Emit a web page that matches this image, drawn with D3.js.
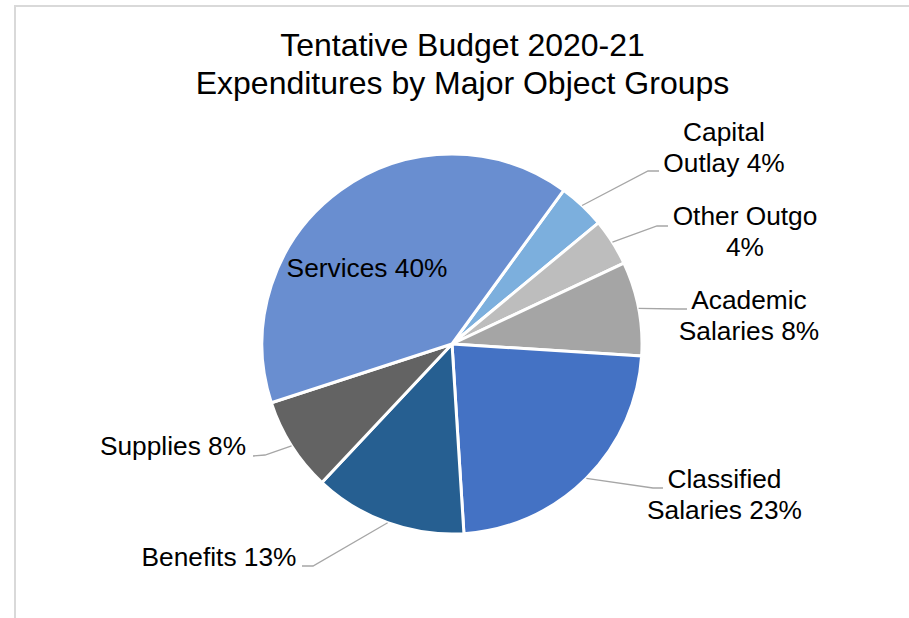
<!DOCTYPE html>
<html>
<head>
<meta charset="utf-8">
<script src="https://cdn.jsdelivr.net/npm/d3@7"></script>
<style>
  html, body { margin: 0; padding: 0; background: #ffffff; }
  svg { display: block; }
  text { font-family: "Liberation Sans", Arial, sans-serif; fill: #000000; }
</style>
</head>
<body>
<svg id="chart" width="909" height="618"></svg>
<script>
// Expenditure groups, clockwise from the Capital Outlay slice
const categories = ["Capital Outlay", "Other Outgo", "Academic Salaries", "Classified Salaries", "Benefits", "Supplies", "Services"];
const shares = [4, 4, 8, 23, 13, 8, 40];
// How each data label wraps; the percentage is appended to the last line
const labelWrap = [["Capital", "Outlay"], ["Other Outgo", ""], ["Academic", "Salaries"], ["Classified", "Salaries"], ["Benefits"], ["Supplies"], ["Services"]];
const titleLines = ["Tentative Budget 2020-21", "Expenditures by Major Object Groups"];

const sliceColors = ["#7CAFDD", "#BDBDBD", "#A5A5A5", "#4472C4", "#265F91", "#636363", "#698ED0"];

// Label placement: text centre x, first baseline, leader elbow and end
const labelLayout = [
  { x: 724, y: 141, elbow: [648, 171], end: [659, 171] },
  { x: 745, y: 225, elbow: [657, 226], end: [668, 226] },
  { x: 749, y: 309, elbow: [677, 309], end: [687, 309] },
  { x: 724.5, y: 488, elbow: [653, 488], end: [663, 488] },
  { x: 219, y: 566, elbow: [313, 566], end: [302, 566] },
  { x: 173, y: 455, elbow: [265, 455], end: [253, 456] },
  { x: 367, y: 277, elbow: null }
];

const svg = d3.select("#chart");
const cx = 452, cy = 344, radius = 190;

// Chart area frame
svg.append("rect")
  .attr("x", 15).attr("y", 6)
  .attr("width", 1000).attr("height", 1000)
  .attr("fill", "#ffffff")
  .attr("stroke", "#d9d9d9").attr("stroke-width", 2);

// Title
svg.append("g").selectAll("text")
  .data(titleLines)
  .join("text")
  .attr("x", 462.5)
  .attr("y", (d, i) => 56 + i * 37.5)
  .attr("text-anchor", "middle")
  .attr("font-size", 32)
  .text(d => d);

const pie = d3.pie()
  .sort(null)
  .startAngle(36 * Math.PI / 180)
  .endAngle(36 * Math.PI / 180 + 2 * Math.PI)
  .value(d => d.value);

const rows = categories.map((c, i) => ({ name: c, value: shares[i], wrap: labelWrap[i], color: sliceColors[i], layout: labelLayout[i] }));
const arcs = pie(rows);

const arc = d3.arc().innerRadius(0).outerRadius(radius);
const rim = d3.arc().innerRadius(radius).outerRadius(radius);

const g = svg.append("g").attr("transform", `translate(${cx},${cy})`);

g.selectAll("path.slice")
  .data(arcs)
  .join("path")
  .attr("class", "slice")
  .attr("d", arc)
  .attr("fill", d => d.data.color)
  .attr("stroke", "#ffffff")
  .attr("stroke-width", 3)
  .attr("stroke-linejoin", "round");

// Leader lines from the rim at each slice's mid-angle
svg.append("g").selectAll("polyline")
  .data(arcs.filter(d => d.data.layout.elbow))
  .join("polyline")
  .attr("points", d => {
    const p = rim.centroid(d);
    const L = d.data.layout;
    return [[cx + p[0], cy + p[1]], L.elbow, L.end].map(q => q.join(",")).join(" ");
  })
  .attr("fill", "none")
  .attr("stroke", "#a6a6a6")
  .attr("stroke-width", 1.3);

// Data labels
const labels = svg.append("g").selectAll("text.label")
  .data(arcs)
  .join("text")
  .attr("class", "label")
  .attr("text-anchor", "middle")
  .attr("font-size", 26.3);

labels.each(function (d) {
  const L = d.data.layout;
  const lines = d.data.wrap.slice();
  lines[lines.length - 1] = (lines[lines.length - 1] + " " + d.data.value + "%").trim();
  d3.select(this).selectAll("tspan")
    .data(lines)
    .join("tspan")
    .attr("x", L.x)
    .attr("y", (t, i) => L.y + i * 31)
    .text(t => t);
});
</script>
</body>
</html>
